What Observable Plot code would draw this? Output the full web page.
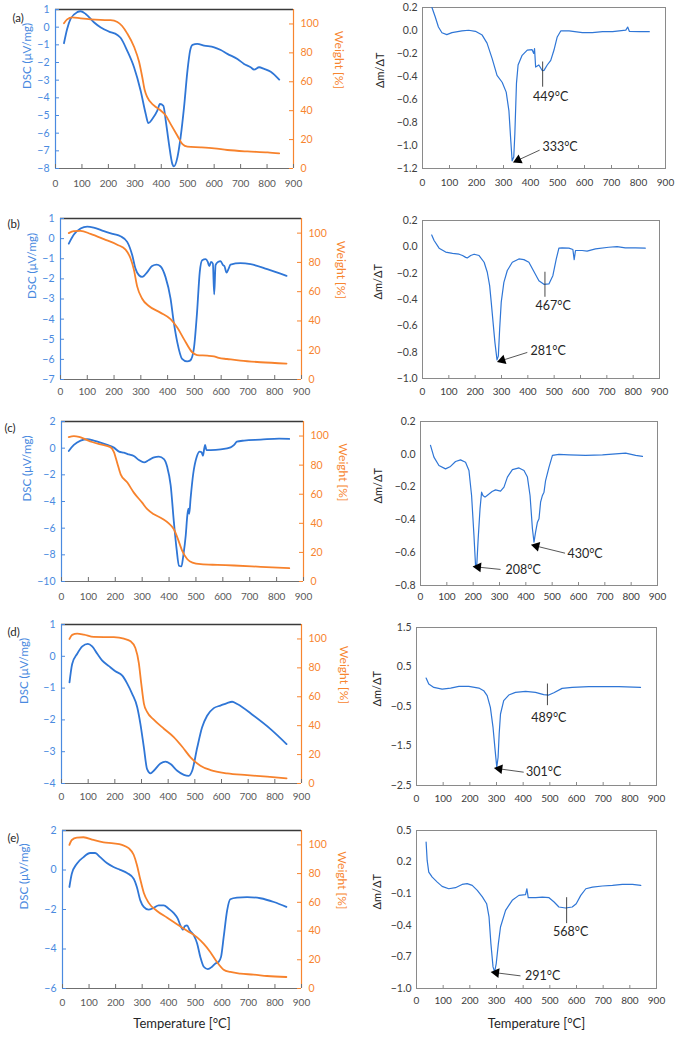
<!DOCTYPE html>
<html><head><meta charset="utf-8">
<script src="https://cdn.jsdelivr.net/npm/d3@7"></script>
<script src="https://cdn.jsdelivr.net/npm/@observablehq/plot@0.6"></script>
<style>
body{margin:0;background:#fff;}
#fig{position:relative;width:675px;height:1041px;overflow:hidden;background:#fff;}
#fig > div{position:absolute;}
</style></head><body><div id="fig"></div>
<script>
// ---------- tick labels ----------
const temperatureTicks = [0,100,200,300,400,500,600,700,800,900];
const weightTicks = [0,20,40,60,80,100];
const dscTicksA = [1,0,-1,-2,-3,-4,-5,-6,-7,-8];
const dscTicksB = [1,0,-1,-2,-3,-4,-5,-6,-7];
const dscTicksC = [2,0,-2,-4,-6,-8,-10];
const dscTicksD = [1,0,-1,-2,-3,-4];
const dscTicksE = [2,0,-2,-4,-6];
const dtgTicksA = [0.2,0,-0.2,-0.4,-0.6,-0.8,-1.0,-1.2];
const dtgTicksB = [0.2,0,-0.2,-0.4,-0.6,-0.8,-1.0];
const dtgTicksC = [0.2,0,-0.2,-0.4,-0.6,-0.8];
const dtgTicksD = [1.5,0.5,-0.5,-1.5,-2.5];
const dtgTicksE = [0.5,0.2,-0.1,-0.4,-0.7,-1.0];
const panelLetters = ["(a)","(b)","(c)","(d)","(e)"];

// ---------- series: [temperature °C, value] ----------
const dscA = [[32,-0.91],[44,-0.1],[57,0.47],[82,0.85],[95,0.9],[114,0.75],[145,0.28],[170,0.0],[202,-0.25],[234,-0.44],[246,-0.6],[271,-1.33],[297,-2.27],[322,-3.6],[341,-4.9],[351,-5.43],[366,-5.2],[385,-4.73],[395,-4.35],[408,-4.45],[417,-5.3],[429,-6.6],[442,-7.75],[448,-7.88],[461,-7.37],[473,-6.24],[486,-4.54],[499,-2.46],[509,-1.33],[518,-1.0],[536,-0.95],[562,-1.04],[600,-1.14],[625,-1.29],[650,-1.51],[688,-1.8],[713,-2.08],[738,-2.27],[751,-2.4],[770,-2.27],[789,-2.36],[814,-2.52],[846,-2.97]];
const weightA = [[32,100.5],[44,103.2],[63,104.6],[95,103.9],[133,103.2],[170,102.8],[208,102.6],[234,101.4],[252,98.6],[271,93.5],[297,84.2],[316,73.8],[328,63.3],[337,54.5],[347,49.4],[372,43.6],[398,40.1],[417,36.7],[435,30.9],[461,22.7],[480,16.9],[499,15.1],[549,14.6],[600,13.9],[650,12.8],[726,11.8],[802,11.1],[846,10.4]];
const dtgA = [[35,0.2],[47,0.12],[59,0.03],[72,-0.02],[90,-0.036],[109,-0.018],[146,-0.004],[171,0.002],[196,-0.007],[221,-0.04],[239,-0.11],[258,-0.245],[276,-0.39],[295,-0.45],[310,-0.536],[320,-0.696],[327,-0.958],[332,-1.133],[338,-1.10],[342,-0.9],[348,-0.46],[354,-0.30],[369,-0.216],[388,-0.17],[406,-0.167],[412,-0.2],[415,-0.158],[419,-0.318],[431,-0.3],[444,-0.35],[450,-0.347],[462,-0.3],[475,-0.26],[487,-0.17],[499,-0.056],[512,-0.004],[543,-0.004],[592,-0.018],[629,-0.018],[667,-0.01],[704,-0.01],[753,0.003],[760,0.03],[766,-0.007],[803,-0.01],[840,-0.01]];

const dscB = [[31,-0.25],[50,0.2],[75,0.5],[100,0.6],[124,0.55],[162,0.37],[199,0.22],[224,0.12],[249,-0.16],[268,-0.83],[280,-1.49],[293,-1.82],[305,-1.9],[324,-1.66],[342,-1.36],[359,-1.29],[373,-1.37],[392,-1.9],[411,-2.98],[423,-4.15],[436,-5.14],[454,-5.97],[473,-6.1],[485,-6.05],[498,-5.47],[510,-3.65],[520,-1.66],[529,-1.07],[542,-1.02],[550,-1.16],[556,-1.37],[562,-1.16],[569,-1.24],[574,-2.77],[579,-1.32],[588,-1.16],[598,-1.12],[607,-1.32],[612,-1.36],[620,-1.69],[628,-1.49],[635,-1.29],[672,-1.22],[710,-1.27],[772,-1.52],[844,-1.85]];
const weightB = [[31,100],[50,101.4],[75,101.6],[112,99.5],[162,95.9],[212,92.1],[243,88.7],[261,83],[274,75.1],[286,63.8],[305,55.2],[330,50.2],[373,45.7],[411,41.2],[436,35.5],[461,27.6],[492,18.6],[510,16.7],[548,16.3],[573,15.8],[591,14.7],[622,14],[672,12.9],[747,11.8],[844,10.9]];
const dtgB = [[35,0.09],[44,0.048],[63,-0.01],[88,-0.04],[114,-0.05],[139,-0.056],[152,-0.066],[164,-0.08],[170,-0.084],[183,-0.066],[196,-0.056],[215,-0.066],[234,-0.117],[246,-0.193],[255,-0.295],[261,-0.42],[268,-0.574],[275,-0.726],[283,-0.858],[288,-0.83],[293,-0.624],[299,-0.42],[309,-0.27],[322,-0.18],[341,-0.117],[366,-0.092],[385,-0.097],[404,-0.117],[423,-0.188],[442,-0.257],[461,-0.285],[480,-0.282],[495,-0.219],[508,-0.092],[518,-0.01],[530,-0.008],[556,-0.01],[571,-0.02],[576,-0.097],[581,-0.028],[606,-0.028],[625,-0.033],[657,-0.016],[707,-0.003],[739,0.002],[770,-0.008],[808,-0.008],[846,-0.01]];

const dscC = [[27,-0.21],[46,0.24],[71,0.57],[96,0.67],[120,0.57],[145,0.42],[170,0.24],[195,0.04],[214,-0.26],[232,-0.34],[251,-0.47],[269,-0.59],[288,-0.89],[307,-1.07],[325,-0.89],[344,-0.69],[362,-0.64],[381,-0.82],[393,-1.4],[406,-2.78],[418,-5.55],[428,-7.56],[437,-8.82],[446,-8.87],[453,-8.06],[462,-6.55],[468,-5.04],[472,-4.54],[475,-4.92],[480,-3.79],[490,-1.9],[503,-0.64],[514,-0.26],[521,-0.31],[526,-0.57],[531,-0.01],[534,0.24],[539,-0.14],[555,-0.14],[592,-0.09],[629,0.06],[642,0.24],[652,0.49],[679,0.57],[741,0.64],[809,0.72],[847,0.69]];
const weightC = [[27,99.3],[46,100],[65,99.5],[89,97.7],[114,95.9],[145,94.3],[182,92.4],[195,89],[207,81.7],[220,73.7],[245,68],[269,61.1],[300,54.2],[319,49.7],[344,46.2],[375,43.2],[400,39.8],[418,35.9],[431,30.2],[449,21.1],[468,15.3],[487,13],[518,11.9],[580,11.4],[642,11],[741,10.1],[847,9.2]];
const dtgC = [[38,0.054],[51,-0.017],[70,-0.068],[95,-0.089],[114,-0.074],[133,-0.044],[152,-0.034],[171,-0.048],[184,-0.099],[194,-0.251],[203,-0.495],[209,-0.678],[214,-0.668],[219,-0.515],[226,-0.333],[232,-0.231],[237,-0.251],[245,-0.261],[253,-0.251],[272,-0.227],[285,-0.217],[304,-0.225],[317,-0.2],[330,-0.139],[349,-0.093],[374,-0.083],[393,-0.099],[406,-0.139],[416,-0.251],[425,-0.454],[431,-0.536],[437,-0.475],[444,-0.414],[450,-0.393],[456,-0.292],[463,-0.251],[469,-0.231],[475,-0.16],[488,-0.078],[501,-0.007],[526,-0.001],[564,-0.003],[627,-0.007],[691,-0.003],[779,0.007],[817,-0.007],[843,-0.013]];

const dscD = [[30,-0.82],[40,-0.24],[59,0.08],[78,0.31],[99,0.39],[115,0.31],[134,0.08],[152,-0.13],[178,-0.31],[202,-0.47],[228,-0.61],[246,-0.85],[265,-1.18],[284,-1.6],[296,-2.13],[309,-2.87],[321,-3.55],[334,-3.68],[346,-3.6],[371,-3.37],[390,-3.31],[409,-3.39],[434,-3.6],[459,-3.73],[477,-3.76],[490,-3.6],[509,-2.87],[527,-2.24],[546,-1.87],[571,-1.63],[596,-1.55],[621,-1.47],[640,-1.43],[659,-1.5],[721,-1.87],[784,-2.29],[844,-2.76]];
const weightD = [[30,100],[40,102.8],[59,103.7],[84,103],[121,101.4],[196,101.2],[234,100.2],[259,98.4],[277,93.7],[290,83.3],[299,69.3],[309,55.3],[321,49.5],[346,44.2],[384,37.9],[421,32.1],[452,25.6],[484,18.1],[521,12.3],[559,9.3],[621,7],[696,5.8],[771,4.7],[844,3.5]];
const dtgD = [[36,0.22],[46,0.07],[65,-0.016],[96,-0.058],[128,-0.033],[159,0.009],[196,0.009],[234,-0.033],[252,-0.1],[265,-0.226],[277,-0.521],[287,-1.03],[295,-1.616],[301,-2.037],[306,-1.784],[310,-1.195],[315,-0.69],[327,-0.353],[346,-0.21],[371,-0.142],[409,-0.117],[446,-0.142],[477,-0.2],[496,-0.21],[515,-0.15],[546,-0.041],[584,-0.016],[646,0.001],[696,0.001],[759,0.001],[840,-0.016]];

const dscE = [[26,-0.86],[35,-0.19],[54,0.32],[79,0.65],[104,0.86],[123,0.86],[142,0.65],[167,0.35],[192,0.15],[217,0.01],[243,-0.15],[268,-0.44],[280,-0.86],[293,-1.54],[306,-1.87],[324,-2.01],[343,-1.92],[362,-1.79],[381,-1.79],[400,-1.96],[419,-2.18],[434,-2.46],[444,-2.8],[454,-3.02],[460,-2.85],[469,-2.8],[479,-3.05],[494,-3.3],[507,-3.72],[519,-4.4],[532,-4.9],[547,-5.02],[563,-4.9],[576,-4.73],[588,-4.65],[597,-4.4],[607,-3.39],[620,-2.04],[632,-1.48],[657,-1.4],[695,-1.37],[745,-1.43],[796,-1.62],[843,-1.87]];
const weightE = [[26,100],[35,103.4],[54,105],[79,105.3],[117,103.4],[155,101.8],[192,101.1],[224,100],[249,97.7],[268,93.1],[280,86.2],[293,75.9],[306,66.7],[324,59.8],[356,54],[393,49.4],[431,44.8],[469,40.2],[507,35.6],[532,31],[557,25.3],[582,18.4],[607,13.1],[632,11.5],[670,10.3],[720,9.7],[770,8.7],[843,8]];
const dtgE = [[36,0.39],[40,0.216],[46,0.105],[59,0.058],[78,0.01],[96,-0.03],[121,-0.053],[146,-0.043],[171,-0.012],[190,-0.005],[209,-0.021],[228,-0.068],[247,-0.13],[263,-0.195],[272,-0.321],[279,-0.574],[287,-0.795],[293,-0.842],[299,-0.763],[307,-0.574],[315,-0.416],[334,-0.258],[359,-0.163],[384,-0.116],[409,-0.109],[414,-0.053],[419,-0.138],[447,-0.138],[472,-0.132],[497,-0.138],[516,-0.179],[534,-0.226],[559,-0.236],[584,-0.226],[599,-0.195],[616,-0.116],[635,-0.053],[660,-0.037],[697,-0.027],[735,-0.021],[772,-0.012],[810,-0.012],[841,-0.021]];

// ---------- annotations ----------
const peakLabelsA = [{x:475,y:-0.58,text:"449°C",anchor:"middle"},{x:444,y:-1.017,text:"333°C",anchor:"start"}];
const peakTicksA = [{x:445,y1:-0.274,y2:-0.493}];
const peakArrowsA = [{x1:434,y1:-1.04,x2:354,y2:-1.127}];
const peakLabelsB = [{x:496,y:-0.447,text:"467°C",anchor:"middle"},{x:410,y:-0.794,text:"281°C",anchor:"start"}];
const peakTicksB = [{x:465,y1:-0.193,y2:-0.383}];
const peakArrowsB = [{x1:398,y1:-0.802,x2:303,y2:-0.862}];
const peakLabelsC = [{x:323,y:-0.705,text:"208°C",anchor:"start"},{x:558,y:-0.607,text:"430°C",anchor:"start"}];
const peakTicksC = [];
const peakArrowsC = [{x1:304,y1:-0.702,x2:219,y2:-0.688},{x1:549,y1:-0.603,x2:440,y2:-0.56}];
const peakLabelsD = [{x:496,y:-0.79,text:"489°C",anchor:"middle"},{x:411,y:-2.165,text:"301°C",anchor:"start"}];
const peakTicksD = [{x:491,y1:0.068,y2:-0.479}];
const peakArrowsD = [{x1:402,y1:-2.163,x2:311,y2:-2.079}];
const peakLabelsE = [{x:578,y:-0.463,text:"568°C",anchor:"middle"},{x:407,y:-0.88,text:"291°C",anchor:"start"}];
const peakTicksE = [{x:563,y1:-0.138,y2:-0.384}];
const peakArrowsE = [{x1:390,y1:-0.88,x2:299,y2:-0.851}];

// ---------- styling ----------
const FONT = "Lato, 'Open Sans', sans-serif";
const BLUE = "#2f76d6", BLUE_TXT = "#4a8ae0";
const ORANGE = "#f7822c", ORANGE_TXT = "#f7852f";
const WMAX = 110;
const LW = 350, RX = 350, RW = 325;

const fig = document.getElementById("fig");
function place(node, left, top) {
  const d = document.createElement("div");
  d.style.left = left + "px"; d.style.top = top + "px";
  d.appendChild(node); fig.appendChild(d);
}

function leftPanel(c) {
  const [y0, y1] = c.yDomain;
  const toY = w => y0 + (w / WMAX) * (y1 - y0);
  const W = LW - c.ml - c.mr, H = c.h - c.mt - c.mb;
  const marks = [
    Plot.ruleY([y1], {stroke: "#3a3a3a", strokeWidth: 1.3}),
    Plot.ruleY([y0], {stroke: "#6f6f6f", strokeWidth: 1.2}),
    Plot.ruleX([0], {stroke: BLUE_TXT, strokeWidth: 1.2}),
    Plot.ruleX([900], {stroke: ORANGE_TXT, strokeWidth: 1.2}),
    Plot.ruleX(temperatureTicks, {insetTop: H - 4, stroke: "#6f6f6f"}),
    Plot.ruleY(c.yTicks, {insetRight: W - 4, stroke: BLUE_TXT}),
    Plot.ruleY(weightTicks.map(toY), {insetLeft: W - 4, stroke: ORANGE_TXT}),
    Plot.axisX({ticks: temperatureTicks, tickSize: 0, tickPadding: c.xPad, label: null, color: "#595959", fontSize: 10}),
    Plot.axisY({ticks: c.yTicks, tickSize: 0, tickPadding: 6, label: null, color: BLUE_TXT, fontSize: 10.5, tickFormat: d3.format("d")}),
    Plot.axisY({anchor: "right", ticks: weightTicks.map(toY), tickSize: 0, tickPadding: 7, label: null, color: ORANGE_TXT, fontSize: 10.5,
      tickFormat: v => String(Math.round((v - y0) / (y1 - y0) * WMAX))}),
    Plot.line(c.dsc, {x: d => d[0], y: d => d[1], stroke: BLUE, strokeWidth: 1.8, curve: "monotone-x"}),
    Plot.line(c.weight, {x: d => d[0], y: d => toY(d[1]), stroke: ORANGE, strokeWidth: 1.8, curve: "monotone-x"}),
    Plot.text(["DSC (μV/mg)"], {text: d => d, frameAnchor: "left", rotate: -90, dx: -c.dscOff, fill: BLUE_TXT, fontSize: 11.5}),
    Plot.text(["Weight [%]"], {text: d => d, frameAnchor: "right", rotate: 90, dx: c.wOff, fill: ORANGE_TXT, fontSize: 12}),
    Plot.text([c.letter], {text: d => d, frameAnchor: "top-left", textAnchor: "start", dx: c.letterX - c.ml, dy: c.letterDy, fill: "#262626", fontSize: 11.5})
  ];
  if (c.xLabel) marks.push(Plot.text([c.xLabel], {text: d => d, frameAnchor: "bottom", dy: 39, fill: "#262626", fontSize: 13}));
  return Plot.plot({
    width: LW, height: c.h, marginLeft: c.ml, marginRight: c.mr, marginTop: c.mt, marginBottom: c.mb,
    style: {background: "transparent", fontFamily: FONT, overflow: "visible"},
    x: {domain: [0, 900]}, y: {domain: c.yDomain},
    marks
  });
}

function rightPanel(c) {
  const [y0, y1] = c.yDomain;
  const W = RW - c.ml - c.mr, H = c.h - c.mt - c.mb;
  const kx = W / 900, ky = H / (y1 - y0);
  const angle = a => Math.atan2((a.x2 - a.x1) * kx, (a.y2 - a.y1) * ky) * 180 / Math.PI;
  const marks = [
    Plot.frame({stroke: "#8a8a8a"}),
    Plot.ruleX(temperatureTicks, {insetTop: H - 3, stroke: "#8a8a8a"}),
    Plot.axisX({ticks: temperatureTicks, tickSize: 0, tickPadding: c.xPad, label: null, color: "#404040", fontSize: 10}),
    Plot.axisY({ticks: c.yTicks, tickSize: 0, tickPadding: 5, label: null, color: "#404040", fontSize: 10.5, tickFormat: d3.format(".1f")}),
    Plot.text(["Δm/ΔT"], {text: d => d, frameAnchor: "left", rotate: -90, dx: -c.labOff, fill: "#262626", fontSize: 11}),
    Plot.line(c.dtg, {x: d => d[0], y: d => d[1], stroke: BLUE, strokeWidth: 1.2}),
    Plot.ruleX(c.ticks, {x: "x", y1: "y1", y2: "y2", stroke: "#333", strokeWidth: 0.9}),
    Plot.link(c.arrows, {x1: "x1", y1: "y1", x2: "x2", y2: "y2", stroke: "#444", strokeWidth: 0.9}),
    Plot.dot(c.arrows, {x: "x2", y: "y2", symbol: "triangle", r: 3.6, fill: "#000", stroke: null, rotate: angle}),
    Plot.text(c.labels, {filter: d => d.anchor === "start", x: "x", y: "y", text: "text", textAnchor: "start", fill: "#262626", fontSize: 12.5}),
    Plot.text(c.labels, {filter: d => d.anchor === "middle", x: "x", y: "y", text: "text", textAnchor: "middle", fill: "#262626", fontSize: 12.5})
  ];
  if (c.xLabel) marks.push(Plot.text([c.xLabel], {text: d => d, frameAnchor: "bottom", dy: 39, fill: "#262626", fontSize: 13}));
  return Plot.plot({
    width: RW, height: c.h, marginLeft: c.ml, marginRight: c.mr, marginTop: c.mt, marginBottom: c.mb,
    style: {background: "transparent", fontFamily: FONT, overflow: "visible"},
    x: {domain: [0, 900]}, y: {domain: c.yDomain},
    marks
  });
}

const rows = [
  {top: 0, h: 195,
   L: {dsc: dscA, weight: weightA, yDomain: [-8, 1], yTicks: dscTicksA, letter: panelLetters[0], ml: 55, mr: 57, mt: 9, mb: 27, xPad: 11, dscOff: 28, wOff: 45, letterX: 12, letterDy: 4},
   R: {dtg: dtgA, yDomain: [-1.2, 0.2], yTicks: dtgTicksA, labels: peakLabelsA, ticks: peakTicksA, arrows: peakArrowsA, ml: 72, mr: 10, mt: 7, mb: 27, xPad: 10, labOff: 42}},
  {top: 195, h: 205,
   L: {dsc: dscB, weight: weightB, yDomain: [-7, 1], yTicks: dscTicksB, letter: panelLetters[1], ml: 60, mr: 49, mt: 23, mb: 21, xPad: 8, dscOff: 28, wOff: 39, letterX: 7, letterDy: 1},
   R: {dtg: dtgB, yDomain: [-1.0, 0.2], yTicks: dtgTicksB, labels: peakLabelsB, ticks: peakTicksB, arrows: peakArrowsB, ml: 72, mr: 16, mt: 25, mb: 22, xPad: 9, labOff: 44}},
  {top: 400, h: 200,
   L: {dsc: dscC, weight: weightC, yDomain: [-10, 2], yTicks: dscTicksC, letter: panelLetters[2], ml: 61, mr: 47, mt: 21, mb: 19, xPad: 11, dscOff: 34, wOff: 39, letterX: 4, letterDy: 2},
   R: {dtg: dtgC, yDomain: [-0.8, 0.2], yTicks: dtgTicksC, labels: peakLabelsC, ticks: peakTicksC, arrows: peakArrowsC, ml: 70, mr: 18, mt: 21, mb: 15, xPad: 7, labOff: 42}},
  {top: 600, h: 210,
   L: {dsc: dscD, weight: weightD, yDomain: [-4, 1], yTicks: dscTicksD, letter: panelLetters[3], ml: 61, mr: 49, mt: 24, mb: 27, xPad: 9, dscOff: 37, wOff: 42, letterX: 7, letterDy: 3},
   R: {dtg: dtgD, yDomain: [-2.5, 1.5], yTicks: dtgTicksD, labels: peakLabelsD, ticks: peakTicksD, arrows: peakArrowsD, ml: 66, mr: 19, mt: 27, mb: 25, xPad: 9, labOff: 39}},
  {top: 810, h: 231,
   L: {dsc: dscE, weight: weightE, yDomain: [-6, 2], yTicks: dscTicksE, letter: panelLetters[4], ml: 62, mr: 49, mt: 20, mb: 53, xPad: 10, dscOff: 38, wOff: 40, letterX: 7, letterDy: 3, xLabel: "Temperature [°C]"},
   R: {dtg: dtgE, yDomain: [-1.0, 0.5], yTicks: dtgTicksE, labels: peakLabelsE, ticks: peakTicksE, arrows: peakArrowsE, ml: 66, mr: 19, mt: 20, mb: 53, xPad: 8, labOff: 39, xLabel: "Temperature [°C]"}}
];

for (const r of rows) {
  place(leftPanel({...r.L, h: r.h}), 0, r.top);
  place(rightPanel({...r.R, h: r.h}), RX, r.top);
}
</script></body></html>
